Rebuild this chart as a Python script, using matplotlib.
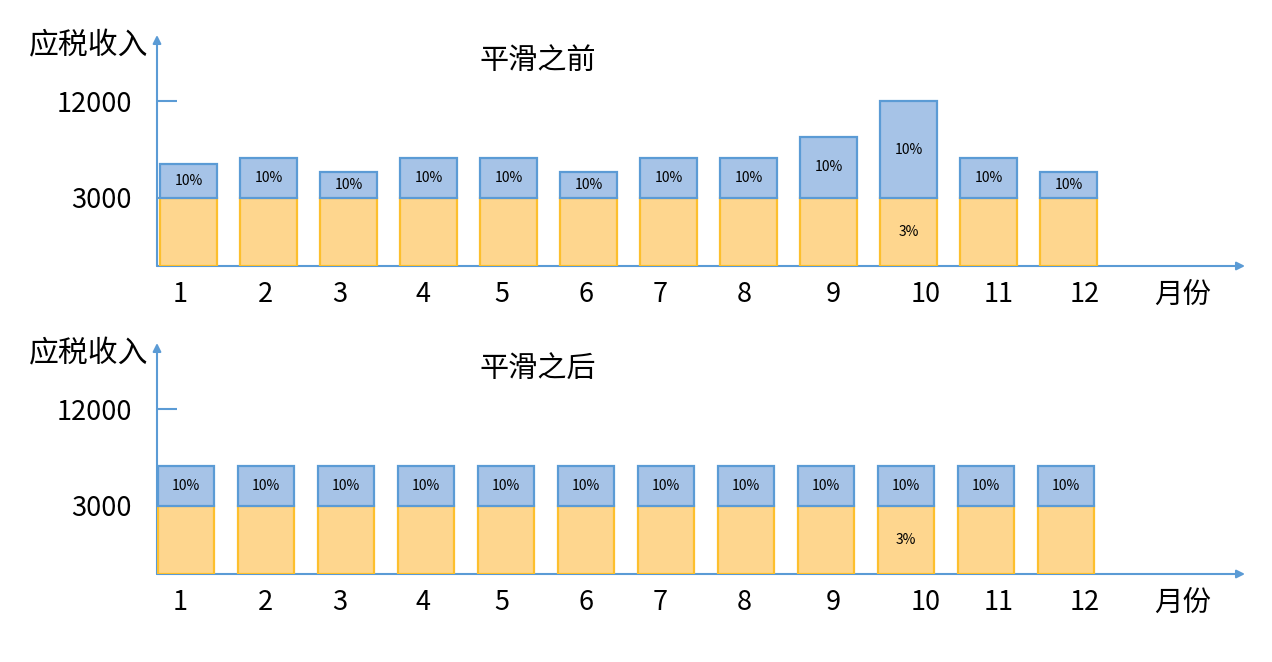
import numpy as np
import matplotlib
matplotlib.use("Agg")
import matplotlib.pyplot as plt

plt.rcParams['font.family'] = ['Noto Sans CJK SC', 'DejaVu Sans']

months = list(range(1, 13))
month_labels = [str(m) for m in months]
base_level = [3000] * 12
# taxable income per month, before and after smoothing
income_before = [6200, 6700, 5400, 6700, 6700, 5400, 6700, 6700, 8700, 12000, 6700, 5400]
income_after = [6700] * 12
upper_rate = ['10%'] * 12
lower_rate = ['', '', '', '', '', '', '', '', '', '3%', '', '']
y_ticks = [3000, 12000]
titles = ['平滑之前', '平滑之后']

# label x positions (pixels), as laid out in the original sketch
label_px = [180, 265, 340, 423, 502, 586, 660, 744, 833, 926, 999, 1085]

AXIS = '#5B9BD5'
BLUE_FILL = '#A6C3E7'
ORANGE_FILL = '#FED68E'
ORANGE_EDGE = '#FDBF2D'

# schematic (non-linear) vertical scale of the sketch
src = [0, 3000, 12000, 24000]
dst = [0, 68, 165, 294]
def fwd(v):
    return np.interp(v, src, dst)
def inv(v):
    return np.interp(v, dst, src)

fig = plt.figure(figsize=(12.72, 6.62), dpi=100)
W, H = 1272, 662

def panel(bottom_px, first_px, values, title):
    ax = fig.add_axes([157 / W, (H - bottom_px) / H, 1088 / W, 231 / H])
    ax.set_yscale('function', functions=(fwd, inv))
    ax.set_xlim(1 + (157 - first_px) / 80, 1 + (1245 - first_px) / 80)
    ax.set_ylim(0, inv(231))
    for s in ax.spines.values():
        s.set_visible(False)

    bw = 0.71
    tops = [v - b for v, b in zip(values, base_level)]
    ax.bar(months, base_level, width=bw, color=ORANGE_FILL, edgecolor=ORANGE_EDGE,
           linewidth=1.6, zorder=3)
    ax.bar(months, tops, bottom=base_level, width=bw, color=BLUE_FILL, edgecolor=AXIS,
           linewidth=1.6, zorder=3)
    for m, b, v, r1, r2 in zip(months, base_level, values, upper_rate, lower_rate):
        mid_up = inv((fwd(b) + fwd(v)) / 2)
        ax.text(m, mid_up, r1, ha='center', va='center', fontsize=10, zorder=4)
        if r2:
            ax.text(m, inv(fwd(b) / 2), r2, ha='center', va='center', fontsize=10, zorder=4)

    ax.set_xticks([])
    ax.set_yticks(y_ticks, [str(t) for t in y_ticks])
    ax.tick_params(axis='y', direction='in', length=14.5, width=1.5, color=AXIS,
                   pad=18, labelsize=19.5)

    ax.annotate('', xy=(0, 1), xytext=(0, 0), xycoords='axes fraction',
                arrowprops=dict(arrowstyle='-|>', color=AXIS, lw=1.5, mutation_scale=12,
                                shrinkA=0, shrinkB=0), zorder=2)
    ax.annotate('', xy=(1, 0), xytext=(0, 0), xycoords='axes fraction',
                arrowprops=dict(arrowstyle='-|>', color=AXIS, lw=1.5, mutation_scale=12,
                                shrinkA=0, shrinkB=0), zorder=2)

    for x, lab in zip(label_px, month_labels):
        ax.text((x - 157) / 1088, -29 / 231, lab, transform=ax.transAxes,
                ha='center', va='center', fontsize=19.5)
    ax.text((1183 - 157) / 1088, -29 / 231, '月份', transform=ax.transAxes,
            ha='center', va='center', fontsize=20.5)

    ax.text(-0.008, 0.952, '应税收入', transform=ax.transAxes, ha='right', va='center',
            fontsize=21.5)
    ax.text(0.35, 0.887, title, transform=ax.transAxes, ha='center', va='center',
            fontsize=21)
    return ax

panel(266, 188.5, income_before, titles[0])
panel(574, 186, income_after, titles[1])

fig.savefig('out.png', dpi=100)
